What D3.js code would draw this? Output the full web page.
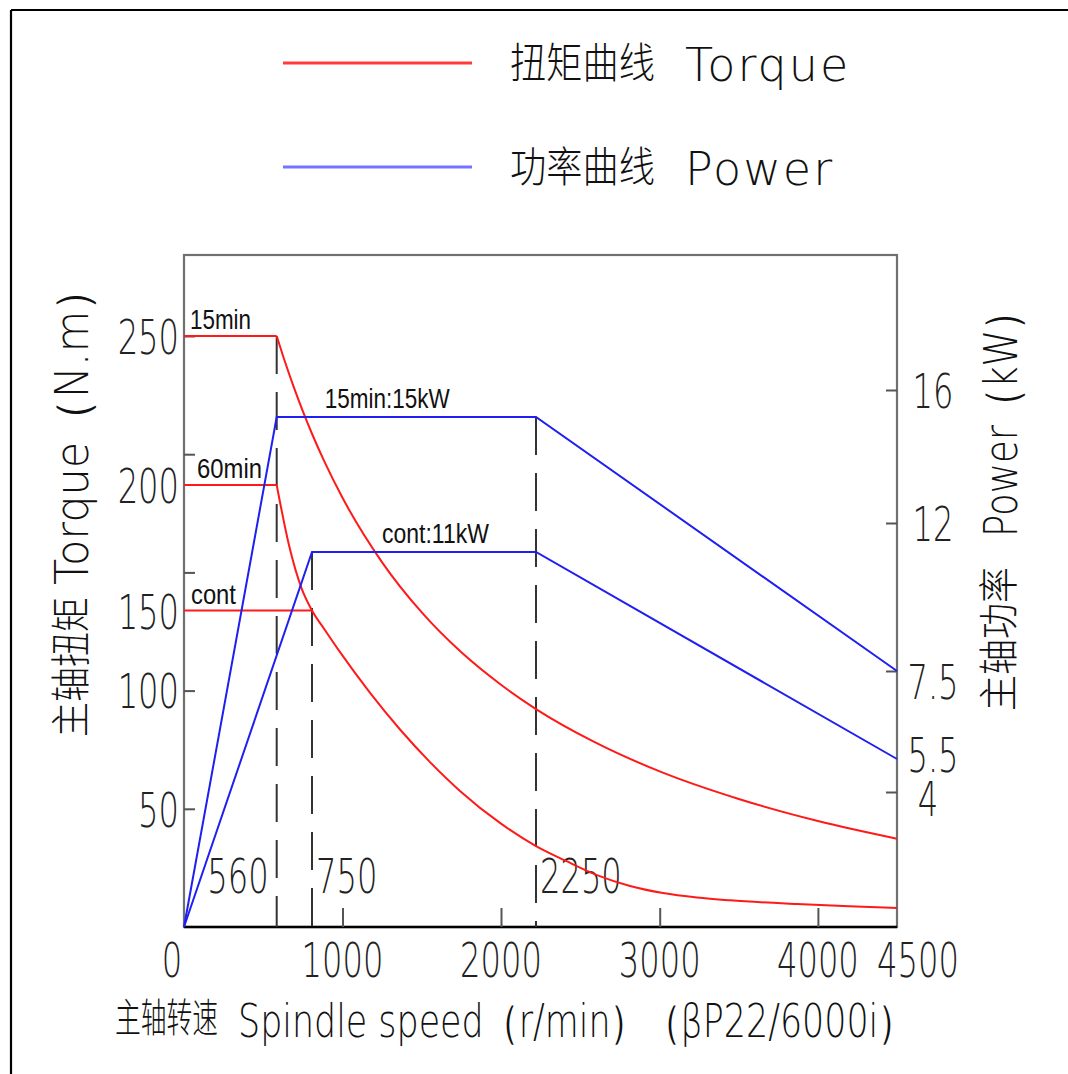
<!DOCTYPE html>
<html><head><meta charset="utf-8">
<script src="https://cdn.jsdelivr.net/npm/d3@7"></script>
<style>
html,body{margin:0;padding:0;background:#fff;}
svg{display:block;}
</style></head>
<body><svg id="chart" width="1068" height="1074"></svg>
<script>
// ---------------- data ----------------
const speedTicks = [0, 1000, 2000, 3000, 4000, 4500];
const speedMarkers = [560, 750, 2250];
const torqueTicks = [50, 100, 150, 200, 250];
const powerTicks = [4, 7.5, 12, 16];
const powerEndLabels = [5.5];

const torque15min = [[0,250],[560,250],[600,242.2],[650,233.2],[700,224.9],[750,217.2],[850,208.0],[1000,194.9],[1250,169.2],[1500,148.8],[1750,123.7],[2000,103.3],[2250,92.0],[2600,78.3],[3000,65.8],[3500,54.2],[4000,44.9],[4500,37.4]];
const torque60min = [[0,200],[560,200],[626,176.1],[695,158.6],[750,150],[857,137.6],[980,123.8],[1174,98.8],[1363,83.4],[1552,69.7],[1741,57.6],[2000,43.8],[2250,34.3],[2432,28.0],[2620,22.0],[2820,17.4],[3021,14.4],[3236,12.5],[3445,11.3],[3868,9.75],[4285,8.6],[4500,8.05]];
const torqueCont = [[0,150],[750,150]];
const power15min = [[0,0],[560,15],[2250,15],[4500,7.5]];
const powerCont = [[0,0],[750,11],[2250,11],[4500,5.5]];

const torqueSeriesNames = ["15min", "60min", "cont"];
const powerSeriesNames = ["15min:15kW", "cont:11kW"];
const legendCn = ["扭矩曲线", "功率曲线"];
const legendEn = ["Torque", "Power"];
const xTitleCn = "主轴转速";
const xTitleEn = "Spindle speed（r/min）（βP22/6000i）";
const yLeftCn = "主轴扭矩";
const yLeftEn = "Torque（N.m）";
const yRightCn = "主轴功率";
const yRightEn = "Power（kW）";

// ---------------- scales ----------------
const L = 184, R = 897, T = 255, B = 927;
const x = d3.scaleLinear().domain([0,560,750,1000,2000,2250,3000,4500])
  .range([L,276.7,312,342.5,501,536,659.7,R]);
const yT = d3.scaleLinear().domain([0,50,100,150,200,250]).range([B,809,690,610.5,485,336]);
const yTmark = d3.scaleLinear().domain([0,250]).range([B,336]);
const yP = d3.scaleLinear().domain([0,4,5.5,7.5,11,12,15,16]).range([B,792,759,671,552,523,417,390]);

const svg = d3.select("#chart");
const LAT = '"DejaVu Sans ExtraLight","DejaVu Sans",sans-serif';
const CJK = '"Noto Sans CJK SC",sans-serif';
const NAR = '"Liberation Sans Narrow","Liberation Sans",Arial,sans-serif';

// text, optionally squeezed horizontally (sx factor or fitted to a width)
function sText(parent, o) {
  const g = parent.append("g").attr("transform", `translate(${o.x},${o.y})`);
  const t = g.append("text").attr("text-anchor", o.anchor || "start")
    .attr("font-family", o.font).attr("font-size", o.size)
    .attr("font-weight", o.weight || 400).attr("fill", o.fill || "#111").text(o.text);
  if (o.ls) t.attr("letter-spacing", o.ls);
  let k = o.sx;
  if (o.width != null) k = o.width / t.node().getComputedTextLength();
  if (k != null) g.attr("transform", `translate(${o.x},${o.y}) scale(${k},1)`);
  return t;
}

// outer border
svg.append("line").attr("x1",11).attr("y1",10).attr("x2",1068).attr("y2",10).attr("stroke","#000").attr("stroke-width",2.2);
svg.append("line").attr("x1",11).attr("y1",10).attr("x2",11).attr("y2",1074).attr("stroke","#000").attr("stroke-width",2.2);

// ---------------- legend ----------------
const legColors = ["#ff3b3b","#7474ff"];
const legY = [63, 167];
legendCn.forEach((t,i)=>{
  svg.append("line").attr("x1",283).attr("x2",472).attr("y1",legY[i]).attr("y2",legY[i])
    .attr("stroke",legColors[i]).attr("stroke-width",3);
  sText(svg, {x:510, y:legY[i]+15, font:CJK, size:42, weight:300, text:t, width:145});
  sText(svg, {x:685, y:legY[i]+18, font:LAT, size:46, weight:200, text:legendEn[i], ls:2});
});

// ---------------- frame & axes ----------------
svg.append("rect").attr("x",L).attr("y",T).attr("width",R-L).attr("height",B-T)
  .attr("fill","none").attr("stroke","#707070").attr("stroke-width",2.2);
svg.append("line").attr("x1",L).attr("x2",R).attr("y1",B).attr("y2",B).attr("stroke","#000").attr("stroke-width",2.4);

function styleAxis(g){ g.select(".domain").remove(); g.selectAll(".tick line").attr("stroke","#555").attr("stroke-width",2); }
svg.append("g").attr("transform",`translate(${L},0)`)
  .call(d3.axisRight(yTmark).tickValues(torqueTicks).tickSize(11).tickFormat("")).call(styleAxis);
svg.append("g").attr("transform",`translate(${R},0)`)
  .call(d3.axisLeft(yP).tickValues(powerTicks).tickSize(11).tickFormat("")).call(styleAxis);
svg.append("g").attr("transform",`translate(0,${B})`)
  .call(d3.axisTop(x).tickValues(speedTicks.filter(d=>d>0 && d<4500)).tickSize(19).tickFormat("")).call(styleAxis);

// dashed marker lines
const seriesAt = (data, s) => data.find(d=>d[0]===s)[1];
const markerTop = [yT(seriesAt(torque15min,560)), yP(seriesAt(powerCont,750)), yP(seriesAt(power15min,2250))];
speedMarkers.forEach((s,i)=>{
  svg.append("line").attr("x1",x(s)).attr("x2",x(s)).attr("y1",markerTop[i]).attr("y2",B)
    .attr("stroke","#333").attr("stroke-width",2).attr("stroke-dasharray","38,18");
});

// tick labels
const NUM = {font:LAT, size:48, weight:200, fill:"#222", sx:0.67};
torqueTicks.forEach(t=>{
  sText(svg, {...NUM, x:179, y:yT(t)+18, anchor:"end", text:t});
});
const powerNudge = {4:6, 5.5:-5, 7.5:10};
powerTicks.concat(powerEndLabels).forEach(p=>{
  sText(svg, {...NUM, x: p===4 ? 928 : 933, y:yP(p)+18+(powerNudge[p]||0), anchor:"middle", text:p});
});
speedTicks.forEach(s=>{
  const shift = s===0 ? -12 : (s===4500 ? 21 : 0);
  sText(svg, {...NUM, x:x(s)+shift, y:977, anchor:"middle", text:s});
});
speedMarkers.forEach((s,i)=>{
  sText(svg, {...NUM, x: i===0 ? x(s)-8 : x(s)+4, y:893, anchor: i===0 ? "end" : "start", text:s});
});

// ---------------- curves ----------------
const red = "#ff1a1a", blue = "#1f1ff2";
const straight = (ys) => d3.line().x(d=>x(d[0])).y(d=>ys(d[1]));
const smooth = (ys) => d3.line().x(d=>x(d[0])).y(d=>ys(d[1])).curve(d3.curveMonotoneX);
[torque15min, torque60min].forEach(d=>{
  svg.append("path").attr("d",straight(yT)(d.slice(0,2))).attr("fill","none").attr("stroke",red).attr("stroke-width",2);
  svg.append("path").attr("d",smooth(yT)(d.slice(1))).attr("fill","none").attr("stroke",red).attr("stroke-width",2);
});
svg.append("path").attr("d",straight(yT)(torqueCont)).attr("fill","none").attr("stroke",red).attr("stroke-width",2);
[power15min, powerCont].forEach(d=>{
  svg.append("path").attr("d",straight(yP)(d)).attr("fill","none").attr("stroke",blue).attr("stroke-width",2);
});

// series labels
const SMALL = {font:NAR, size:28, fill:"#111"};
const tFlats = [torque15min[0][1], torque60min[0][1], torqueCont[0][1]];
const tOffX = [6, 13, 7];
torqueSeriesNames.forEach((n,i)=>{
  sText(svg, {...SMALL, x:x(0)+tOffX[i], y:yT(tFlats[i])-7, text:n, width:[61,65,45][i]});
});
const pFlats = [[560,15],[750,11]];
const pOffX = [48, 70];
powerSeriesNames.forEach((n,i)=>{
  sText(svg, {...SMALL, x:x(pFlats[i][0])+pOffX[i], y:yP(pFlats[i][1])-9, text:n, width:[125,107][i]});
});

// ---------------- axis titles ----------------
// bottom
sText(svg, {x:115, y:1032, font:CJK, size:40, weight:300, text:xTitleCn, width:103});
sText(svg, {x:238, y:1037, font:LAT, size:46, weight:200, text:xTitleEn, width:675});
// left (rotated)
const gl = svg.append("g").attr("transform","translate(88,0) rotate(-90)");
sText(gl, {x:-737, y:-3, font:CJK, size:40, weight:300, text:yLeftCn, width:140});
sText(gl, {x:-585, y:0, font:LAT, size:46, weight:200, text:yLeftEn, width:317});
// right (rotated)
const gr = svg.append("g").attr("transform","translate(1017,0) rotate(-90)");
sText(gr, {x:-711, y:-4, font:CJK, size:40, weight:300, text:yRightCn, width:144});
sText(gr, {x:-537, y:0, font:LAT, size:46, weight:200, text:yRightEn, width:244});
</script>
</body></html>
